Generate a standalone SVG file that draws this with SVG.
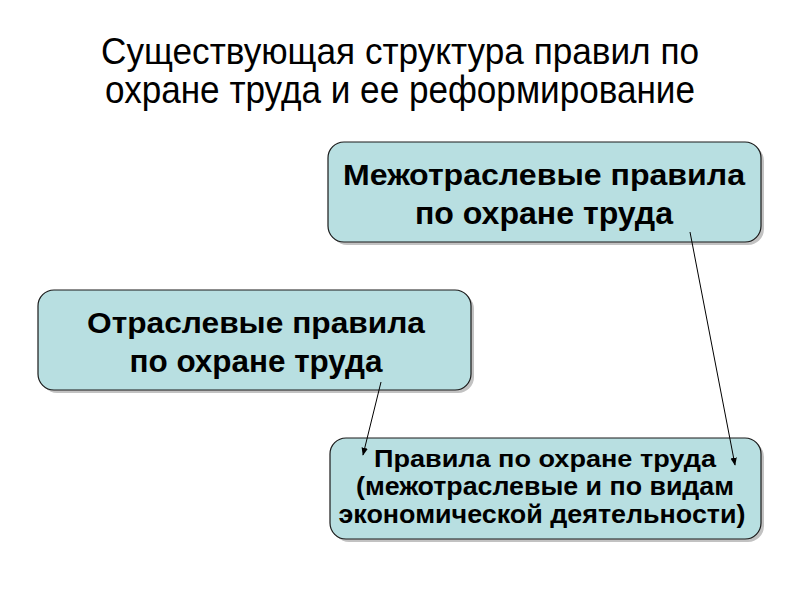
<svg xmlns="http://www.w3.org/2000/svg" width="800" height="600" viewBox="0 0 800 600">
<defs>
<style>
.box{fill:#B8DFE1;stroke:#1a1a1a;stroke-width:1.2}
.sh{fill:#9a9a9a;opacity:0.6}
.title{font-family:"Liberation Sans",Arial,sans-serif;font-size:37px;fill:#000;text-anchor:middle}
.big{font-family:"Liberation Sans",Arial,sans-serif;font-size:29px;font-weight:bold;fill:#000;text-anchor:middle}
.big2{font-family:"Liberation Sans",Arial,sans-serif;font-size:32px;font-weight:bold;fill:#000;text-anchor:middle}
.small{font-family:"Liberation Sans",Arial,sans-serif;font-size:24px;font-weight:bold;fill:#000;text-anchor:middle}
.conn{stroke:#000;stroke-width:1;fill:none}
</style>
<marker id="ah" viewBox="0 0 10 10" refX="9" refY="5" markerWidth="8" markerHeight="8" markerUnits="userSpaceOnUse" orient="auto">
<path d="M0,1 L10,5 L0,9 z" fill="#000"/>
</marker>
</defs>
<rect width="800" height="600" fill="#fff"/>
<g id="title">
<text class="title" x="400" y="64" textLength="598" lengthAdjust="spacingAndGlyphs">Существующая структура правил по</text>
<text class="title" x="400" y="103" style="font-size:39px" textLength="590" lengthAdjust="spacingAndGlyphs">охране труда и ее реформирование</text>
</g>
<g id="node-mezhotraslevye">
<rect class="sh" x="331" y="145" width="433" height="100" rx="16"/>
<rect class="box" x="328" y="142" width="433" height="100" rx="16"/>
<text class="big" x="544" y="185" textLength="402" lengthAdjust="spacingAndGlyphs">Межотраслевые правила</text>
<text class="big2" x="544" y="224" textLength="258" lengthAdjust="spacingAndGlyphs">по охране труда</text>
</g>
<g id="node-otraslevye">
<rect class="sh" x="41" y="293" width="433" height="100" rx="16"/>
<rect class="box" x="38" y="290" width="433" height="100" rx="16"/>
<text class="big" x="256" y="333" textLength="338" lengthAdjust="spacingAndGlyphs">Отраслевые правила</text>
<text class="big2" x="256" y="372" textLength="253" lengthAdjust="spacingAndGlyphs">по охране труда</text>
</g>
<g id="node-pravila">
<rect class="sh" x="333" y="441" width="431" height="101" rx="16"/>
<rect class="box" x="330" y="438" width="431" height="101" rx="16"/>
<text class="small" x="545" y="467" textLength="342" lengthAdjust="spacingAndGlyphs">Правила по охране труда</text>
<text class="small" x="545" y="495" style="font-size:25px" textLength="378" lengthAdjust="spacingAndGlyphs">(межотраслевые и по видам</text>
<text class="small" x="542" y="523" style="font-size:26px" textLength="407" lengthAdjust="spacingAndGlyphs">экономической деятельности)</text>
</g>
<g id="connectors">
<line class="conn" x1="381" y1="382" x2="363" y2="455" marker-end="url(#ah)"/>
<line class="conn" x1="690" y1="232" x2="735" y2="465" marker-end="url(#ah)"/>
</g>
</svg>
